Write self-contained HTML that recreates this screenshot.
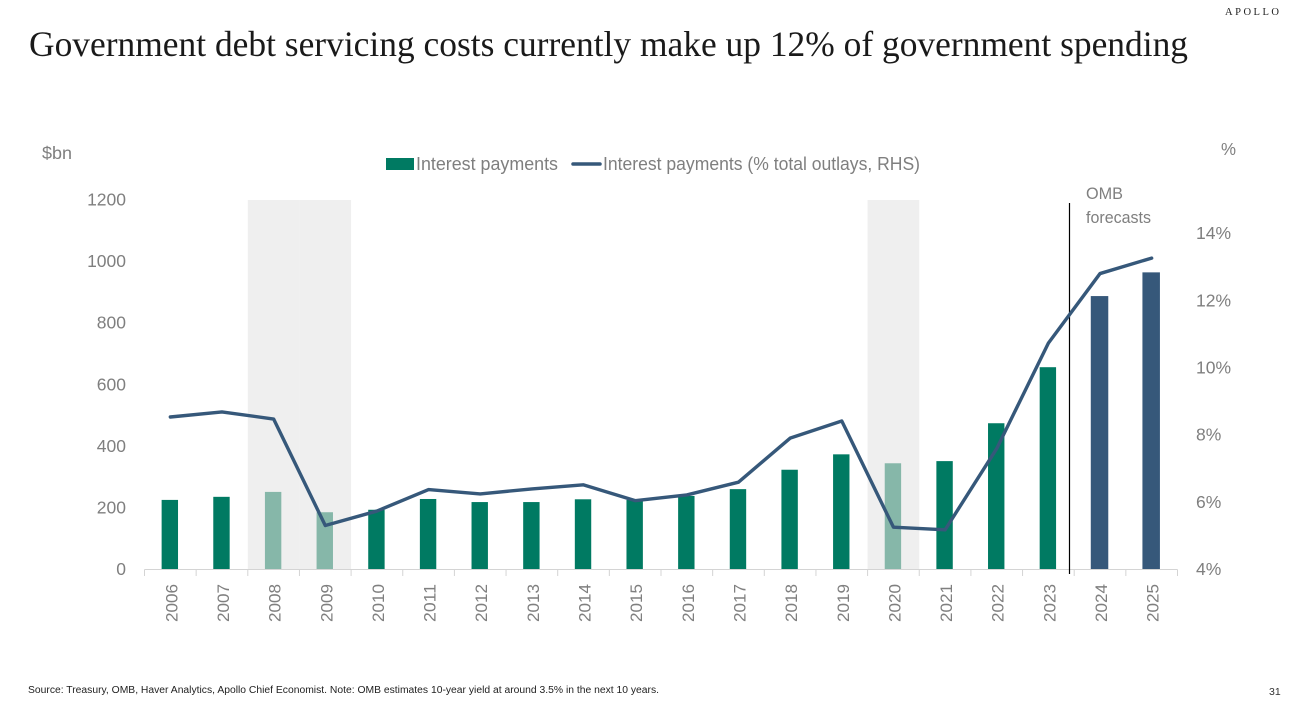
<!DOCTYPE html>
<html lang="en">
<head>
<meta charset="utf-8">
<title>Government debt servicing costs</title>
<style>
  html, body { margin: 0; padding: 0; background: #fff; }
  body { width: 1301px; height: 710px; overflow: hidden; }
  svg { display: block; }
  text { font-family: "Liberation Sans", sans-serif; fill: #7f7f7f; }
  .serif { font-family: "Liberation Serif", serif; fill: #111; }
</style>
</head>
<body>
<svg id="chart" width="1301" height="710" viewBox="0 0 1301 710" xmlns="http://www.w3.org/2000/svg">
  <text class="serif" x="1225" y="15" font-size="10.5" textLength="54" lengthAdjust="spacing" style="fill:#222">APOLLO</text>
  <text class="serif" x="29" y="56" font-size="35.5" textLength="1159" lengthAdjust="spacingAndGlyphs" style="fill:#1a1a1a">Government debt servicing costs currently make up 12% of government spending</text>
  <text x="42" y="159" font-size="17.5" textLength="30" lengthAdjust="spacingAndGlyphs">$bn</text>
  <text x="1221" y="155" font-size="17.5" textLength="15" lengthAdjust="spacingAndGlyphs">%</text>

  <g>
    <rect x="386" y="158" width="28" height="12" fill="#007a62"></rect>
    <text x="416" y="170" font-size="18" textLength="142" lengthAdjust="spacingAndGlyphs">Interest payments</text>
    <line x1="573" y1="164" x2="600" y2="164" stroke="#36587a" stroke-width="3.5" stroke-linecap="round"></line>
    <text x="603" y="170" font-size="18" textLength="317" lengthAdjust="spacingAndGlyphs">Interest payments (% total outlays, RHS)</text>
  </g>

  <g id="bands"></g>
  <g id="bars"></g>
  <g id="axes"></g>
  <line x1="1069.5" y1="203" x2="1069.5" y2="574" stroke="#000" stroke-width="1.2"></line>
  <text x="1086" y="199" font-size="16.5" textLength="37" lengthAdjust="spacingAndGlyphs">OMB</text>
  <text x="1086" y="223" font-size="16.5" textLength="65" lengthAdjust="spacingAndGlyphs">forecasts</text>
  <g id="lineGroup"></g>

  <text x="28" y="693" font-size="10" textLength="631" lengthAdjust="spacingAndGlyphs" style="fill:#222">Source: Treasury, OMB, Haver Analytics, Apollo Chief Economist. Note: OMB estimates 10-year yield at around 3.5% in the next 10 years.</text>
  <text x="1269" y="695" font-size="10.5" style="fill:#333">31</text>
</svg>
<script>
const years = ['2006','2007','2008','2009','2010','2011','2012','2013','2014','2015','2016','2017','2018','2019','2020','2021','2022','2023','2024','2025'];
const interestPayments = [226,236,252,186,194,229,219,219,228,226,239,261,324,374,345,352,475,657,888,965];
const interestShare = [8.54,8.69,8.48,5.31,5.74,6.38,6.25,6.40,6.52,6.05,6.22,6.60,7.91,8.42,5.26,5.18,7.60,10.74,12.81,13.27];
const recessionYears = ['2008','2009','2020'];
const forecastYears = ['2024','2025'];
const leftTicks = [0,200,400,600,800,1000,1200];
const rightTicks = [4,6,8,10,12,14];

const plotLeft = 144.5, plotRight = 1177.5, plotBottom = 569.5, plotTop = 200;
const leftMax = 1200, rightMin = 4, rightMax = 15;
const step = (plotRight - plotLeft) / years.length;
const NS = 'http://www.w3.org/2000/svg';

function xBand(i) { return plotLeft + i * step; }
function xCenter(i) { return plotLeft + (i + 0.5) * step; }
function yLeft(v) { return plotBottom - (v / leftMax) * (plotBottom - plotTop); }
function yRight(v) { return plotBottom - ((v - rightMin) / (rightMax - rightMin)) * (plotBottom - plotTop); }
function make(parent, tag, attrs) {
  const el = document.createElementNS(NS, tag);
  for (const k in attrs) el.setAttribute(k, attrs[k]);
  parent.appendChild(el);
  return el;
}

const bandsG = document.getElementById('bands');
const barsG = document.getElementById('bars');
const axesG = document.getElementById('axes');
const lineG = document.getElementById('lineGroup');

recessionYears.forEach(function (yr) {
  const i = years.indexOf(yr);
  const band = make(bandsG, 'rect', { x: xBand(i), y: plotTop, width: step, height: plotBottom - plotTop, fill: '#efefef' });
  
  
});

years.forEach(function (yr, i) {
  const isForecast = forecastYears.includes(yr);
  const isRecession = recessionYears.includes(yr);
  const w = isForecast ? 17.5 : 16.4;
  const fill = isForecast ? '#36587a' : (isRecession ? '#86b7a9' : '#007a62');
  const top = yLeft(interestPayments[i]);
  const bar = make(barsG, 'rect', { x: xCenter(i) - w / 2 - 0.5, y: top, width: w, height: plotBottom - top, fill: fill });
  
  
});

const baseline = make(axesG, 'line', { x1: plotLeft, y1: plotBottom, x2: plotRight, y2: plotBottom, stroke: '#d4d4d4', 'stroke-width': 1 });



for (let i = 0; i <= years.length; i++) {
  const tick = make(axesG, 'line', { x1: xBand(i), y1: plotBottom, x2: xBand(i), y2: plotBottom + 6.5, stroke: '#d4d4d4', 'stroke-width': 1 });
  
  
}

years.forEach(function (yr, i) {
  const cx = xCenter(i) + 7;
  const t = make(axesG, 'text', { x: cx, y: 622, 'font-size': 17, transform: 'rotate(-90 ' + cx + ' 622)', textLength: 38, lengthAdjust: 'spacingAndGlyphs' });
  t.textContent = yr;
  
  
});

leftTicks.forEach(function (v) {
  const t = make(axesG, 'text', { x: 126, y: yLeft(v) + 5.5, 'font-size': 17.5, 'text-anchor': 'end' });
  t.textContent = String(v);
  
  
});

rightTicks.forEach(function (v) {
  const t = make(axesG, 'text', { x: 1196, y: yRight(v) + 5.5, 'font-size': 17.5 });
  t.textContent = v + '%';
  
  
});

const pts = interestShare.map(function (v, i) { return xCenter(i) + ',' + yRight(v); }).join(' ');
const series = make(lineG, 'polyline', { points: pts, fill: 'none', stroke: '#36587a', 'stroke-width': 3.4, 'stroke-linejoin': 'round', 'stroke-linecap': 'round' });


</script>
</body>
</html>
